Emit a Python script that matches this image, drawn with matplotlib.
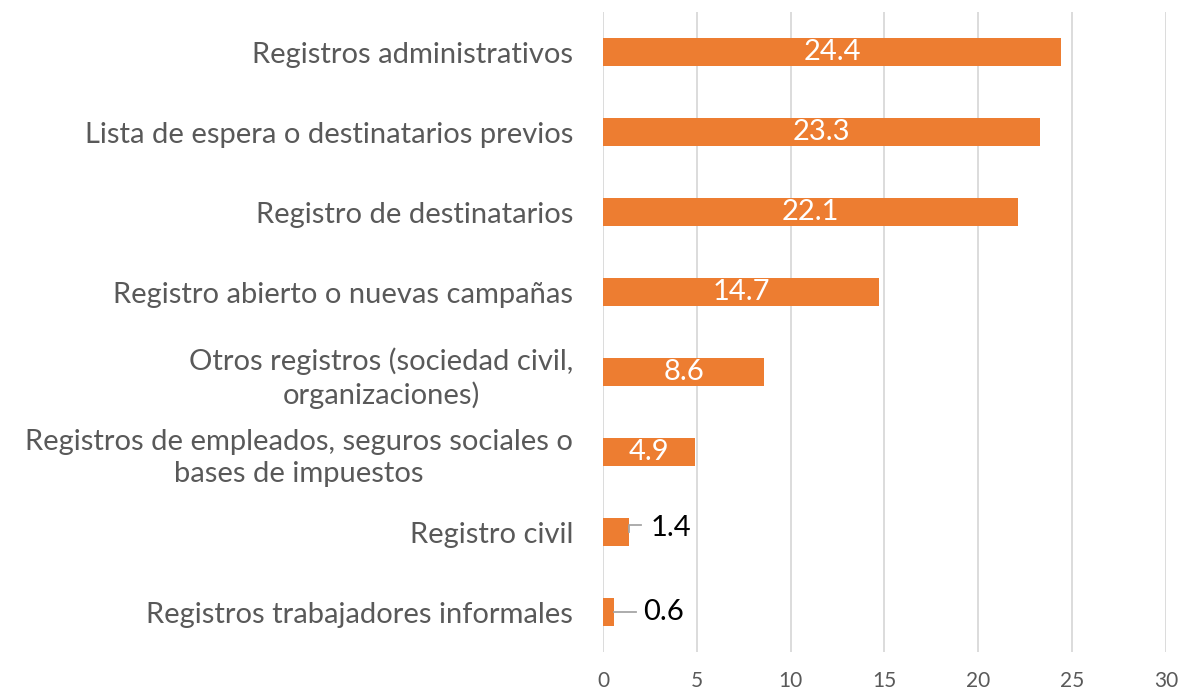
import matplotlib
matplotlib.use("Agg")
import matplotlib.pyplot as plt

categories = [
    "Registros administrativos",
    "Lista de espera o destinatarios previos",
    "Registro de destinatarios",
    "Registro abierto o nuevas campañas",
    "Otros registros (sociedad civil,\norganizaciones)",
    "Registros de empleados, seguros sociales o\nbases de impuestos",
    "Registro civil",
    "Registros trabajadores informales",
]
values = [24.4, 23.3, 22.1, 14.7, 8.6, 4.9, 1.4, 0.6]
value_labels = ["24.4", "23.3", "22.1", "14.7", "8.6", "4.9", "1.4", "0.6"]
xticks = [0, 5, 10, 15, 20, 25, 30]

plt.rcParams['font.family'] = ['Lato', 'DejaVu Sans']

fig = plt.figure(figsize=(11.82, 6.94), dpi=100)
ax = fig.add_axes([0.5101, 0.0605, 0.4764, 0.9222])

ypos = list(range(len(categories)))
color = "#ED7D31"
ax.barh(ypos, values, height=0.35, color=color, zorder=3)
ax.set_ylim(len(categories) - 0.5, -0.5)
ax.set_xlim(0, 30)
ax.set_xticks(xticks)
ax.set_xticklabels([str(t) for t in xticks], fontsize=15, color="#595959")
ax.set_yticks(ypos)
ax.set_yticklabels(categories, fontsize=21, color="#595959", linespacing=1.3)
for t in ax.get_yticklabels():
    t.set_multialignment('center')
ax.tick_params(axis='y', length=0, pad=21.5)
ax.tick_params(axis='x', length=0, pad=14)
ax.grid(axis='x', color="#D9D9D9", linewidth=1.3, zorder=0)
for s in ax.spines.values():
    s.set_visible(False)

for y, v, lab in zip(ypos, values, value_labels):
    if v > 3:
        ax.text(v / 2, y, lab, ha='center', va='center', color='white',
                fontsize=21, zorder=4)
    else:
        if v > 1:
            xl, xe, dy = 2.56, 2.02, -0.09
            ax.plot([v, v, xe], [y, y + dy, y + dy], color="#A6A6A6",
                    linewidth=1.3, zorder=4)
        else:
            xl, xe, dy = 2.13, 1.76, 0.0
            ax.plot([v, xe], [y, y], color="#A6A6A6", linewidth=1.3, zorder=4)
        ax.text(xl, y + dy * 0.5, lab, ha='left', va='center', color='black',
                fontsize=21, zorder=4)

fig.savefig("out.png", dpi=100)
